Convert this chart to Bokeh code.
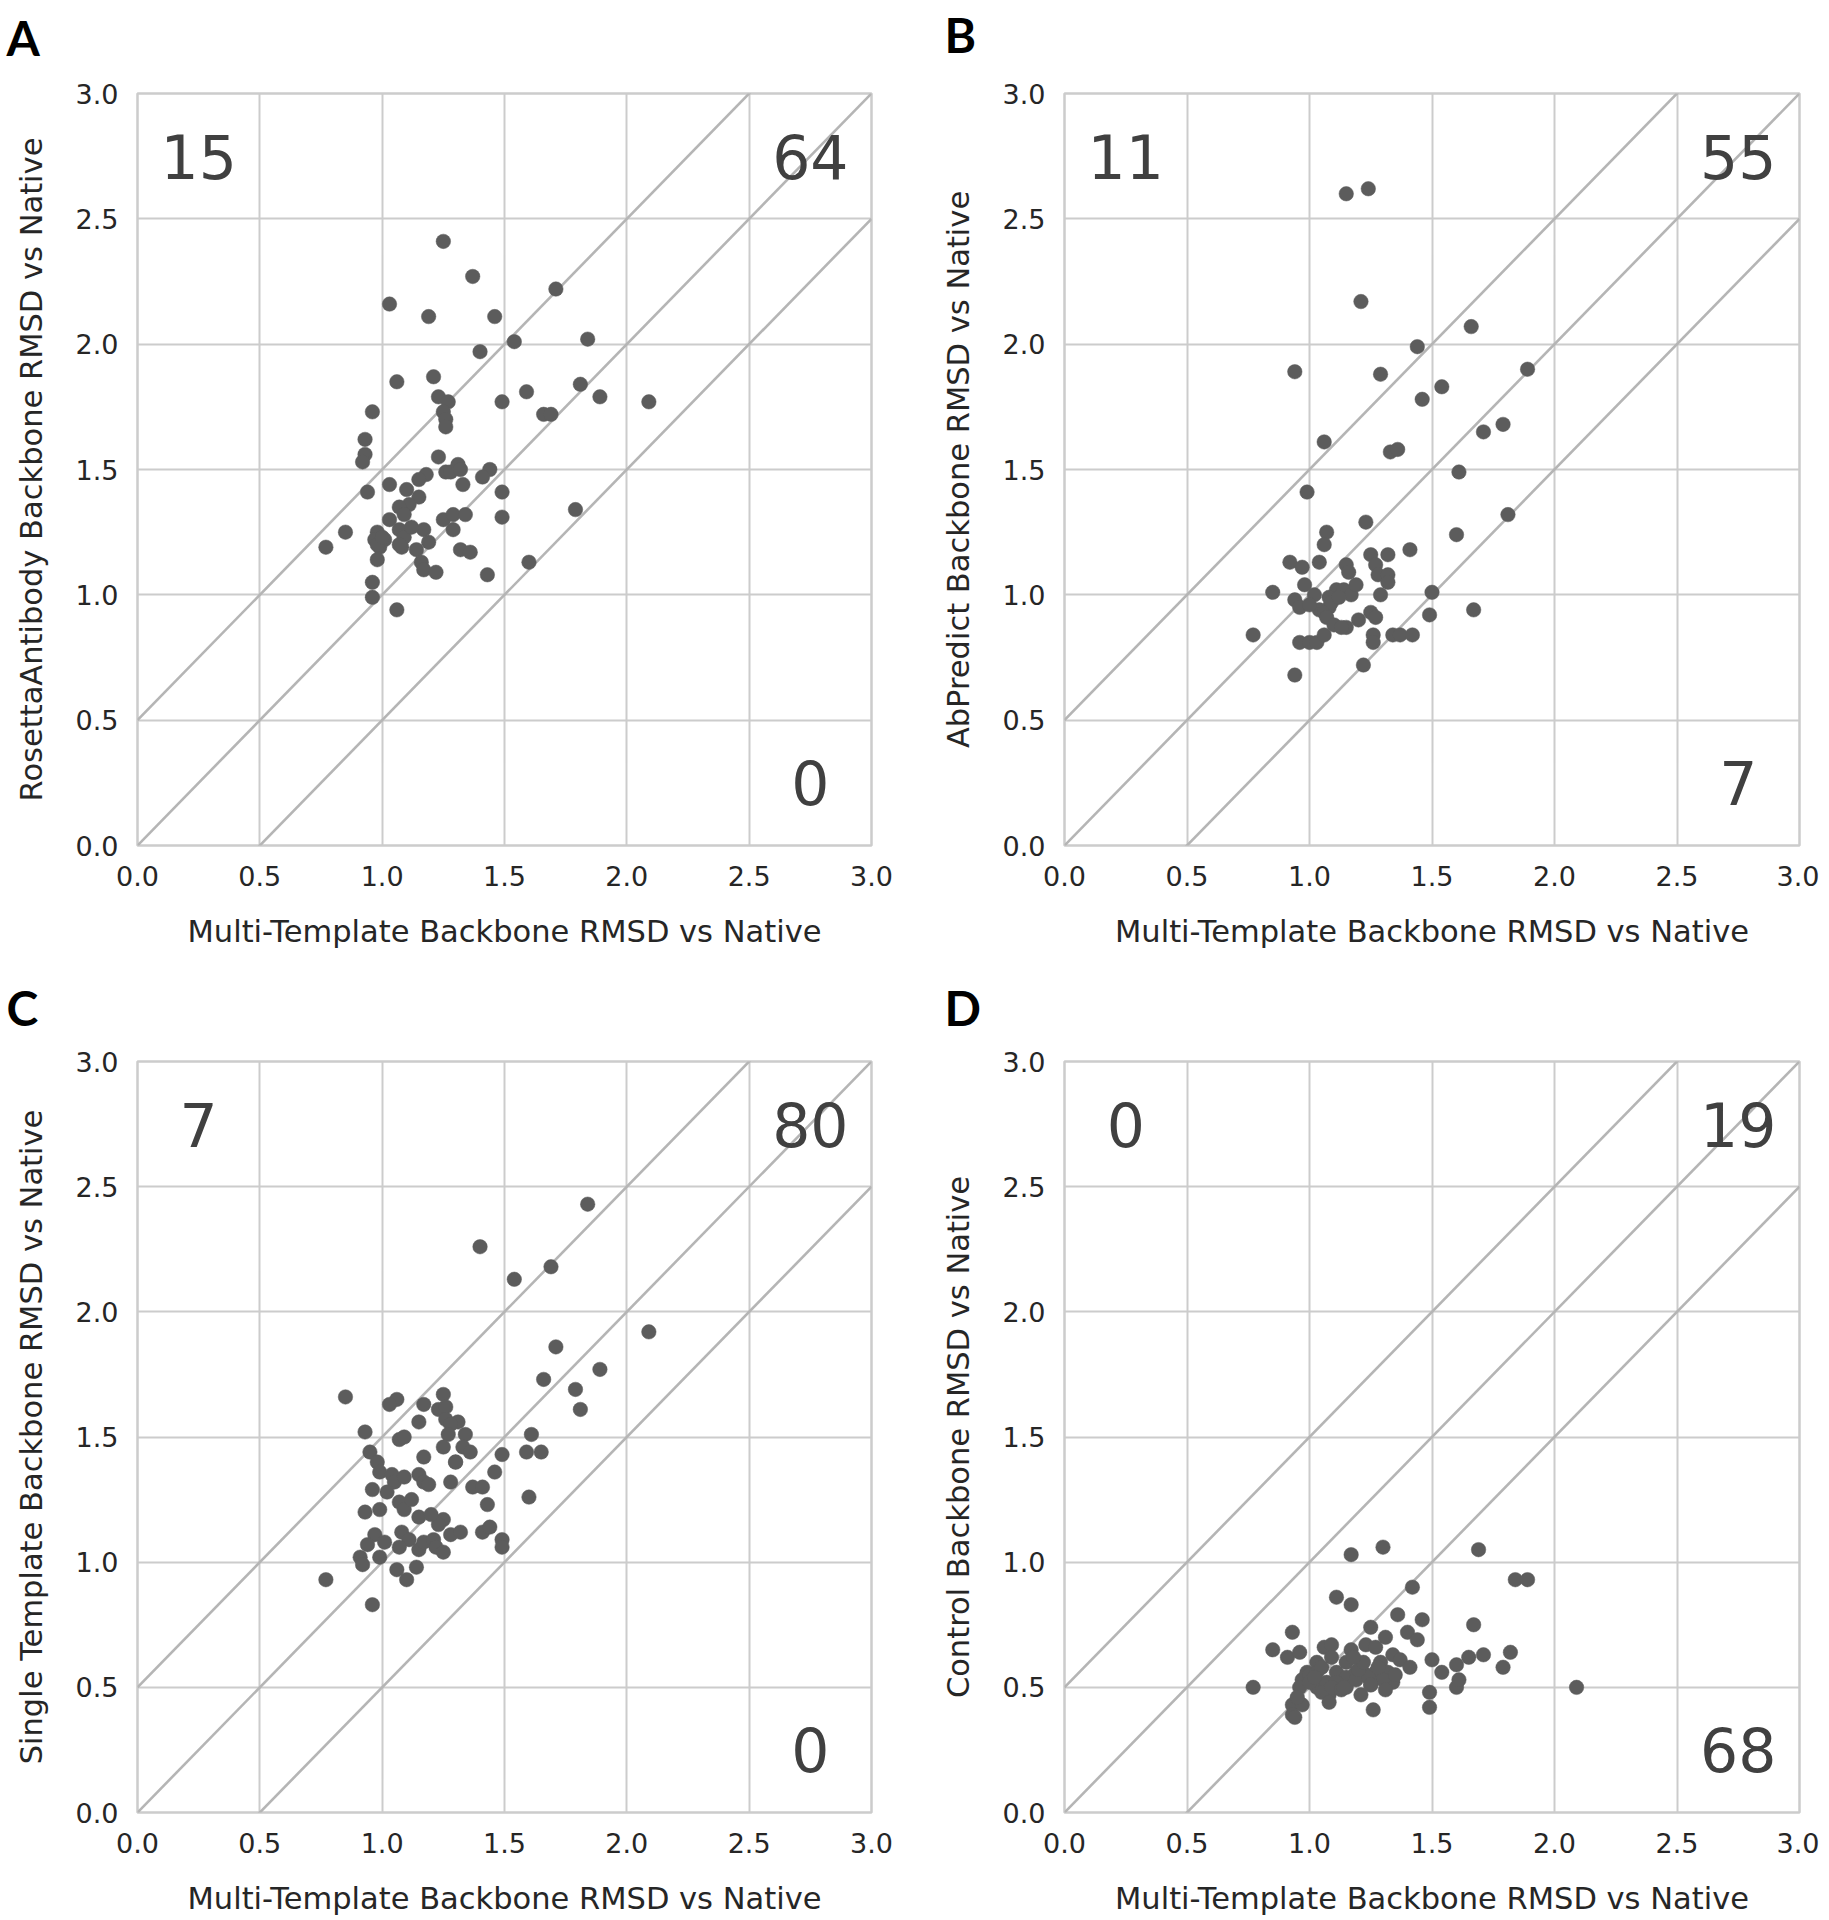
from bokeh.plotting import figure
from bokeh.layouts import column, row
from bokeh.models import Range1d, FixedTicker, PrintfTickFormatter, Label, Title
from bokeh.embed import file_html
from bokeh.resources import INLINE

# ---------------- data ----------------
ticks = [0.0, 0.5, 1.0, 1.5, 2.0, 2.5, 3.0]
x_title = "Multi-Template Backbone RMSD vs Native"

a_multi = [1.25, 1.37, 1.03, 1.19, 1.46, 1.71, 1.54, 1.84, 1.40, 1.06, 1.21, 1.59, 1.81, 1.89,
           2.09, 1.49, 1.23, 1.27, 0.96, 1.25, 1.26, 1.26, 1.66, 1.69, 0.93, 0.93, 0.92, 1.23,
           1.26, 1.28, 1.31, 1.32, 1.44, 1.41, 1.18, 1.15, 1.03, 1.10, 1.33, 1.49, 0.94, 1.15,
           1.11, 1.07, 1.09, 1.25, 1.29, 1.34, 1.49, 1.79, 0.85, 0.77, 0.98, 0.97, 1.01, 1.07,
           1.09, 1.17, 1.29, 0.99, 1.08, 1.14, 0.98, 1.32, 1.36, 1.16, 1.17, 1.22, 1.43, 1.60,
           0.96, 0.96, 1.06, 1.07, 0.98, 1.00, 1.12, 1.19, 1.03]
a_rosetta = [2.41, 2.27, 2.16, 2.11, 2.11, 2.22, 2.01, 2.02, 1.97, 1.85, 1.87, 1.81, 1.84, 1.79,
             1.77, 1.77, 1.79, 1.77, 1.73, 1.73, 1.70, 1.67, 1.72, 1.72, 1.62, 1.56, 1.53, 1.55,
             1.49, 1.49, 1.52, 1.50, 1.50, 1.47, 1.48, 1.46, 1.44, 1.42, 1.44, 1.41, 1.41, 1.39,
             1.36, 1.35, 1.32, 1.30, 1.32, 1.32, 1.31, 1.34, 1.25, 1.19, 1.25, 1.22, 1.22, 1.26,
             1.23, 1.26, 1.26, 1.19, 1.19, 1.18, 1.14, 1.18, 1.17, 1.13, 1.10, 1.09, 1.08, 1.13,
             1.05, 0.99, 0.94, 1.20, 1.20, 1.23, 1.27, 1.21, 1.30]

b_multi = [1.15, 1.24, 1.21, 1.66, 1.44, 0.94, 1.29, 1.89, 1.54, 1.46, 1.79, 1.71, 1.06, 1.33,
           1.36, 1.61, 0.99, 1.81, 1.23, 1.60, 1.07, 1.06, 1.41, 1.25, 1.32, 0.92, 0.97, 1.04,
           1.15, 1.16, 1.27, 1.28, 1.32, 1.32, 0.98, 0.85, 0.94, 0.96, 1.02, 1.11, 1.14, 1.17,
           1.19, 1.08, 1.08, 1.04, 1.06, 1.07, 1.10, 1.15, 1.29, 1.50, 1.25, 1.27, 1.49, 1.67,
           0.77, 0.96, 1.00, 1.03, 1.06, 1.26, 1.26, 1.34, 1.37, 1.42, 1.22, 0.94, 1.09, 1.12,
           1.20, 1.00, 1.13]
b_abpredict = [2.60, 2.62, 2.17, 2.07, 1.99, 1.89, 1.88, 1.90, 1.83, 1.78, 1.68, 1.65, 1.61, 1.57,
               1.58, 1.49, 1.41, 1.32, 1.29, 1.24, 1.25, 1.20, 1.18, 1.16, 1.16, 1.13, 1.11, 1.13,
               1.12, 1.09, 1.12, 1.08, 1.08, 1.05, 1.04, 1.01, 0.98, 0.95, 1.00, 1.02, 1.02, 1.00,
               1.04, 0.99, 0.95, 0.94, 0.93, 0.91, 0.88, 0.87, 1.00, 1.01, 0.93, 0.91, 0.92, 0.94,
               0.84, 0.81, 0.81, 0.81, 0.84, 0.84, 0.81, 0.84, 0.84, 0.84, 0.72, 0.68, 0.97, 0.99,
               0.90, 0.96, 0.87]

c_multi = [1.84, 1.40, 1.54, 1.69, 2.09, 1.71, 1.89, 1.66, 1.79, 1.81, 0.85, 1.06, 1.03, 1.17,
           1.25, 1.23, 1.26, 1.26, 1.31, 1.28, 1.15, 0.93, 1.07, 1.09, 1.27, 1.34, 1.61, 1.25,
           1.33, 1.36, 1.49, 1.59, 1.65, 0.95, 0.98, 1.17, 1.30, 0.99, 1.04, 1.05, 1.09, 1.15,
           1.17, 1.19, 1.28, 1.46, 1.37, 1.41, 0.96, 1.43, 1.60, 1.07, 1.09, 0.93, 0.99, 1.15,
           1.25, 1.23, 1.28, 1.32, 1.41, 1.44, 1.49, 1.49, 0.97, 0.94, 1.01, 1.08, 1.11, 1.07,
           1.15, 1.17, 1.21, 1.22, 1.25, 0.91, 0.92, 1.06, 1.14, 1.10, 0.77, 0.96, 1.12, 1.20,
           1.02, 1.30, 0.99]
c_single = [2.43, 2.26, 2.13, 2.18, 1.92, 1.86, 1.77, 1.73, 1.69, 1.61, 1.66, 1.65, 1.63, 1.63,
            1.67, 1.61, 1.62, 1.57, 1.56, 1.55, 1.56, 1.52, 1.49, 1.50, 1.51, 1.51, 1.51, 1.46,
            1.46, 1.44, 1.43, 1.44, 1.44, 1.44, 1.40, 1.42, 1.40, 1.36, 1.35, 1.32, 1.34, 1.35,
            1.32, 1.31, 1.32, 1.36, 1.30, 1.30, 1.29, 1.23, 1.26, 1.24, 1.21, 1.20, 1.21, 1.18,
            1.17, 1.15, 1.11, 1.12, 1.12, 1.14, 1.09, 1.06, 1.11, 1.07, 1.08, 1.12, 1.09, 1.06,
            1.05, 1.08, 1.09, 1.06, 1.04, 1.02, 0.99, 0.97, 0.98, 0.93, 0.93, 0.83, 1.25, 1.19,
            1.28, 1.40, 1.02]

d_multi = [1.17, 1.30, 1.69, 1.84, 1.89, 1.42, 1.11, 1.17, 1.36, 1.46, 1.67, 1.25, 0.93, 1.40,
           1.44, 1.31, 0.85, 0.91, 0.96, 1.06, 1.09, 1.17, 1.23, 1.27, 1.09, 1.03, 1.15, 1.34,
           1.37, 1.41, 1.50, 1.54, 1.60, 1.65, 1.71, 1.82, 1.79, 0.99, 0.97, 1.00, 1.03, 1.07,
           1.11, 1.15, 1.19, 1.23, 1.27, 1.29, 1.32, 1.34, 1.30, 1.25, 1.15, 1.21, 1.08, 1.05,
           0.96, 0.77, 0.93, 0.97, 0.93, 0.94, 1.26, 1.49, 1.49, 1.60, 1.61, 2.09, 1.00, 1.11,
           1.19, 1.24, 1.09, 1.03, 1.25, 1.13, 1.20, 1.05, 0.95, 1.35, 1.02, 1.14, 1.22, 1.28,
           1.18, 1.08, 1.31]
d_control = [1.03, 1.06, 1.05, 0.93, 0.93, 0.90, 0.86, 0.83, 0.79, 0.77, 0.75, 0.74, 0.72, 0.72,
             0.69, 0.70, 0.65, 0.62, 0.64, 0.66, 0.67, 0.65, 0.67, 0.66, 0.62, 0.60, 0.60, 0.63,
             0.61, 0.58, 0.61, 0.56, 0.59, 0.62, 0.63, 0.64, 0.58, 0.56, 0.53, 0.55, 0.50, 0.52,
             0.56, 0.54, 0.56, 0.55, 0.56, 0.60, 0.56, 0.52, 0.53, 0.51, 0.50, 0.47, 0.47, 0.48,
             0.50, 0.50, 0.43, 0.43, 0.39, 0.38, 0.41, 0.48, 0.42, 0.50, 0.53, 0.50, 0.52, 0.52,
             0.53, 0.54, 0.50, 0.56, 0.51, 0.49, 0.57, 0.58, 0.46, 0.55, 0.54, 0.50, 0.60, 0.58,
             0.62, 0.44, 0.49]

diag_x = [0.0, 3.0]
offsets = [0.5, 0.0, -0.5]

panels = [
    dict(letter="A", ytitle="RosettaAntibody Backbone RMSD vs Native", x=a_multi, y=a_rosetta,
         counts=("15", "64", "0")),
    dict(letter="B", ytitle="AbPredict Backbone RMSD vs Native", x=b_multi, y=b_abpredict,
         counts=("11", "55", "7")),
    dict(letter="C", ytitle="Single Template Backbone RMSD vs Native", x=c_multi, y=c_single,
         counts=("7", "80", "0")),
    dict(letter="D", ytitle="Control Backbone RMSD vs Native", x=d_multi, y=d_control,
         counts=("0", "19", "68")),
]

GRID = "#cccccc"
DIAG = "#b5b5b5"
DOT = "#5c5c5c"
TXT = "#262626"
BIG = "#404040"


def make_panel(info, fw, fh, left, right, top, bottom, letter_offset, spacer):
    p = figure(frame_width=fw, frame_height=fh, min_border_left=left, min_border_right=right,
               min_border_top=top, min_border_bottom=bottom,
               x_range=Range1d(0, 3), y_range=Range1d(0, 3),
               output_backend="svg", toolbar_location=None, background_fill_color="white",
               border_fill_color="white")
    # spacer nearest the frame, then the panel letter on top of it
    p.add_layout(Title(text=" ", text_font_size="10px", standoff=spacer), "above")
    p.add_layout(Title(text=info["letter"], align="left", offset=letter_offset,
                       text_font="Lato", text_font_style="bold", text_font_size="48px",
                       text_color="black", standoff=0, vertical_align="top"), "above")

    p.outline_line_color = GRID
    p.outline_line_width = 2.5
    for ax in (p.xaxis[0], p.yaxis[0]):
        ax.ticker = FixedTicker(ticks=ticks)
        ax.formatter = PrintfTickFormatter(format="%.1f")
        ax.axis_line_color = None
        ax.major_tick_line_color = None
        ax.minor_tick_line_color = None
        ax.major_tick_out = 0
        ax.major_tick_in = 0
        ax.major_label_text_font = "DejaVu Sans"
        ax.major_label_text_font_size = "27px"
        ax.major_label_text_color = TXT
        ax.axis_label_text_font = "DejaVu Sans"
        ax.axis_label_text_font_size = "30.5px"
        ax.axis_label_text_font_style = "normal"
        ax.axis_label_text_color = TXT
    p.xaxis.axis_label = x_title
    p.yaxis.axis_label = info["ytitle"]
    p.xaxis.major_label_standoff = 20
    p.xaxis.axis_label_standoff = 25
    p.yaxis.major_label_standoff = 19
    p.yaxis.axis_label_standoff = 24
    p.grid.grid_line_color = GRID
    p.grid.grid_line_width = 2

    for off in offsets:
        p.line(diag_x, [v + off for v in diag_x], line_color=DIAG, line_width=2.6)

    p.scatter(info["x"], info["y"], size=14.5, fill_color=DOT, line_color=DOT, line_width=0.5)

    tl, mid, br = info["counts"]
    for txt, xx, yy in ((tl, 0.25, 2.75), (mid, 2.75, 2.75), (br, 2.75, 0.25)):
        p.add_layout(Label(x=xx, y=yy, text=txt, text_align="center", text_baseline="middle",
                           text_font="DejaVu Sans", text_font_size="60px", text_color=BIG))
    return p


pa = make_panel(panels[0], 734, 752, 137, 63, 90, 131, -131, 13)
pb = make_panel(panels[1], 735, 752, 130, 20, 93, 128, -120, 16)
pc = make_panel(panels[2], 734, 751, 137, 63, 88, 98, -131, 11)
pd = make_panel(panels[3], 735, 751, 130, 20, 88, 98, -120, 11)

layout = column(row(pa, pb), row(pc, pd))

open("out.html", "w").write(file_html(layout, INLINE))
